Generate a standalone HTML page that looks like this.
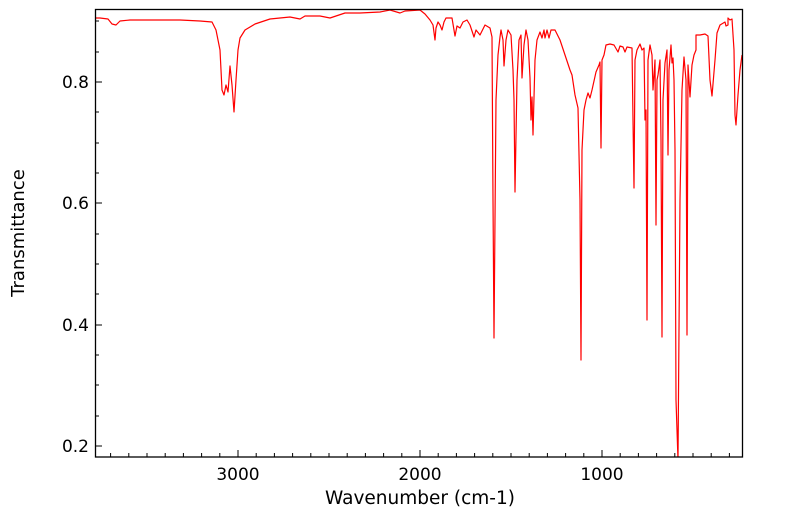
<!DOCTYPE html>
<html><head><style>body{margin:0;background:#fff}svg{display:block}text{font-family:"DejaVu Sans","Liberation Sans",sans-serif;font-size:17px;fill:#000}.lab{font-size:18.5px}</style></head><body>
<svg width="799" height="516" viewBox="0 0 799 516">
<defs><clipPath id="c"><rect x="95" y="10" width="647" height="447"/></clipPath></defs>
<polyline clip-path="url(#c)" fill="none" stroke="#f00" stroke-width="1.2" stroke-linejoin="round" points="95,18 100,18 108,19 112,24 116,25 120,21 130,20 150,20 180,20 200,21 212,22 216,30 220,50 222,90 224,95 226,85 228,92 230,66 232,85 234,112 236,80 238,50 240,38 245,30 255,24 270,19 290,17 300,19 305,16 320,16 330,18 345,13 360,13 380,12 390,10 400,13 405,11 420,10 425,14 430,20 433,25 435,40 436,28 438,22 440,25 442,30 444,22 446,18 452,18 455,36 457,26 460,28 463,22 467,20 470,25 474,37 476,30 480,35 485,25 490,28 492,37 493,200 494,338 496,100 498,55 500,37 501,30 503,40 504,66 506,40 508,30 511,35 513,70 514,100 515,192 517,80 519,40 521,35 522,78 524,45 526,30 528,40 530,78 531,120 532,97 533,135 535,60 537,40 540,32 542,38 544,30 545,38 547,30 549,38 551,30 555,30 560,40 565,55 570,70 572,75 575,95 578,108 580,200 581,360 582,150 584,110 586,100 588,93 590,98 592,90 596,72 599,65 600,62 601,148 602,60 604,55 606,45 610,44 614,45 618,52 620,46 623,47 625,52 627,47 632,48 633,120 634,188 635,60 637,50 640,44 642,50 644,48 645,120 646,110 647,320 648,60 650,45 652,55 653,90 655,60 656,225 657,80 658,75 660,60 661,140 662,337 663,100 665,63 667,50 668,155 669,70 671,45 672,63 673,58 674,80 675,150 676,400 678,460 680,200 682,90 684,57 686,80 687,335 688,65 690,97 692,65 694,55 696,50 696,35 700,35 705,34 708,36 710,80 712,96 715,60 717,33 720,25 725,22 726,26 728,25 728,18 730,20 732,19 734,50 735,115 736,125 738,95 740,70 742,55"/>
<rect x="95.5" y="9.5" width="647" height="447.5" fill="none" stroke="#000" stroke-width="1.3"/>
<path stroke="#000" stroke-width="1" d="
M238,457v-7M420,457v-7M602,457v-7
M110.6,457v-4M128.8,457v-4M147,457v-4M165.2,457v-4M183.4,457v-4M201.6,457v-4M219.8,457v-4
M256.2,457v-4M274.4,457v-4M292.6,457v-4M310.8,457v-4M329,457v-4M347.2,457v-4M365.4,457v-4M383.6,457v-4M401.8,457v-4
M438.2,457v-4M456.4,457v-4M474.6,457v-4M492.8,457v-4M511,457v-4M529.2,457v-4M547.4,457v-4M565.6,457v-4M583.8,457v-4
M620.2,457v-4M638.4,457v-4M656.6,457v-4M674.8,457v-4M693,457v-4M711.2,457v-4M729.4,457v-4
M95,446h7M95,325h7M95,203h7M95,82h7
M95,416h4M95,385h4M95,355h4M95,294h4M95,264h4M95,234h4M95,173h4M95,143h4M95,112h4M95,52h4M95,21h4"/>
<text x="238" y="480" text-anchor="middle">3000</text>
<text x="420" y="480" text-anchor="middle">2000</text>
<text x="602" y="480" text-anchor="middle">1000</text>
<text x="89" y="452" text-anchor="end">0.2</text>
<text x="89" y="331" text-anchor="end">0.4</text>
<text x="89" y="209" text-anchor="end">0.6</text>
<text x="89" y="88" text-anchor="end">0.8</text>
<text class="lab" x="420" y="504" text-anchor="middle">Wavenumber (cm-1)</text>
<text class="lab" style="font-size:18px" transform="translate(24,233) rotate(-90)" text-anchor="middle">Transmittance</text>
</svg>
</body></html>
